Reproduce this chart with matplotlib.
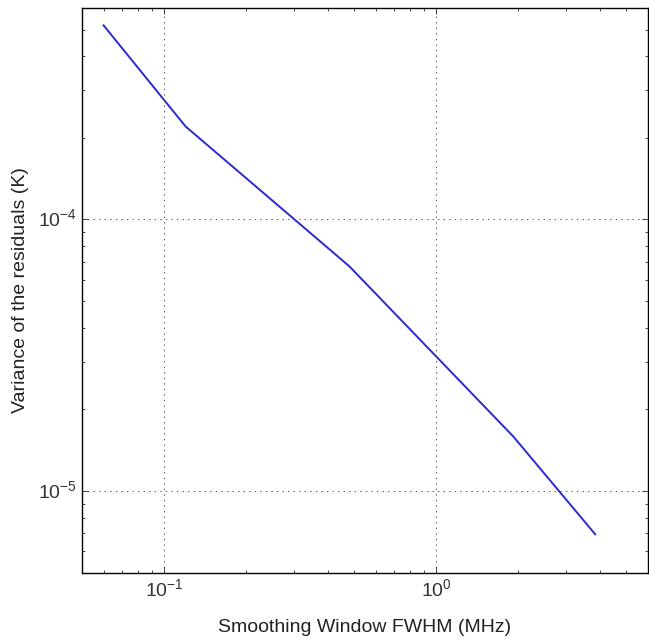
import matplotlib
matplotlib.use("Agg")
import matplotlib.pyplot as plt

# smoothing window FWHM (MHz) and residual variance (K)
fwhm = [0.06, 0.12, 0.48, 1.92, 3.84]
variance = [5.18e-4, 2.20e-4, 6.72e-5, 1.59e-5, 6.94e-6]

plt.style.use('classic')
plt.rcParams['font.family'] = ['Liberation Sans', 'DejaVu Sans']
plt.rcParams['mathtext.default'] = 'regular'
plt.rcParams['axes.unicode_minus'] = False
plt.rcParams['figure.facecolor'] = 'white'
plt.rcParams['savefig.facecolor'] = 'white'

fig = plt.figure(figsize=(6.49, 6.39), dpi=100)
ax = fig.add_axes([0.1264, 0.1033, 0.8720, 0.8842])

ax.plot(fwhm, variance, color='#2a2ad0', linewidth=1.4)
ax.set_xscale('log')
ax.set_yscale('log')
ax.set_xlim(0.05, 6)
ax.set_ylim(5e-6, 6e-4)
ax.grid(True, which='major', linestyle=':', color='#555555', linewidth=0.7)

ax.set_xlabel('Smoothing Window FWHM (MHz)', fontsize=14, labelpad=13, color='#222222')
ax.set_ylabel('Variance of the residuals (K)', fontsize=14, labelpad=6, color='#222222')
ax.tick_params(labelsize=14, labelcolor='#333333')

fig.savefig('out.png', dpi=100)
